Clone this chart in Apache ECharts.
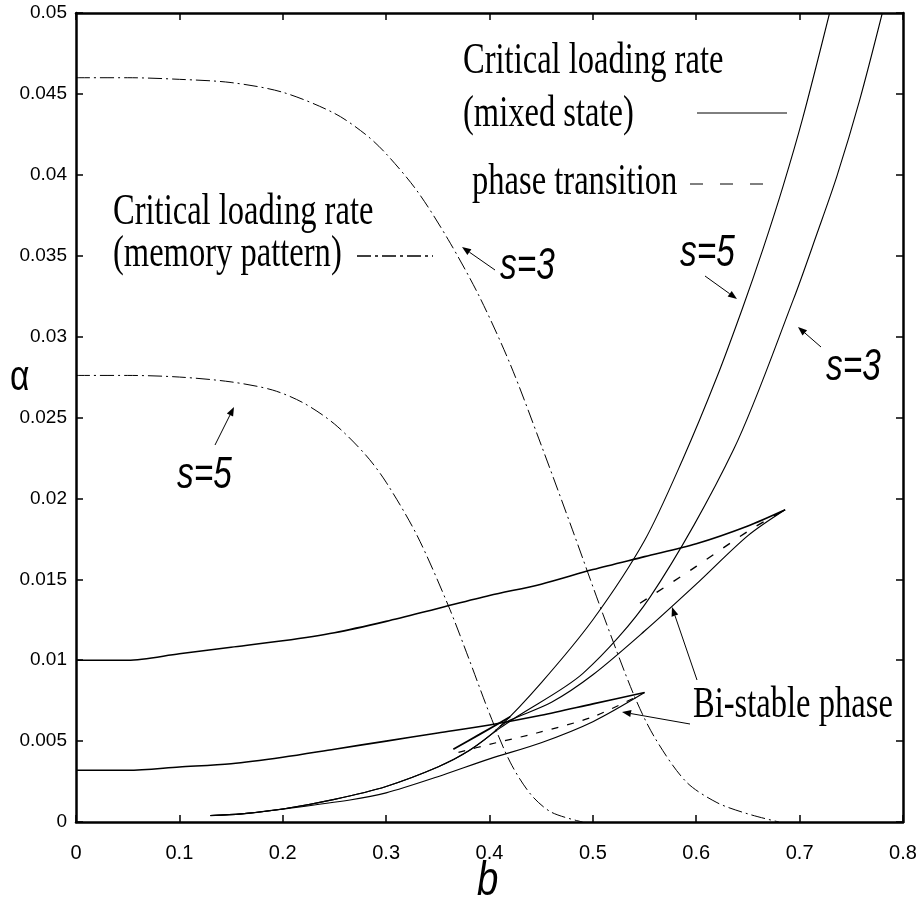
<!DOCTYPE html>
<html><head><meta charset="utf-8">
<script src="https://cdn.jsdelivr.net/npm/echarts@6/dist/echarts.min.js"></script>
<style>html,body{margin:0;padding:0;background:#fff}#c{width:920px;height:899px}</style>
</head><body><div id="c"></div>
<script>
// ---- tick labels ----
const xTickLabels = ['0','0.1','0.2','0.3','0.4','0.5','0.6','0.7','0.8'];
const yTickLabels = ['0','0.005','0.01','0.015','0.02','0.025','0.03','0.035','0.04','0.045','0.05'];

// ---- critical loading rate (memory pattern), dash-dot ----
const memS3_b = [0, 0.05, 0.10, 0.15, 0.20, 0.25, 0.28, 0.30, 0.33, 0.36, 0.39, 0.42, 0.45, 0.48, 0.51, 0.54, 0.56, 0.59, 0.62, 0.65, 0.68];
const memS3_a = [0.0460, 0.0460, 0.0459, 0.0457, 0.0451, 0.0438, 0.0425, 0.0413, 0.0390, 0.0360, 0.0325, 0.0283, 0.0233, 0.0181, 0.0128, 0.0078, 0.0052, 0.0025, 0.0012, 0.0005, 0.0];
const memS5_b = [0, 0.05, 0.10, 0.15, 0.19, 0.22, 0.25, 0.28, 0.30, 0.33, 0.36, 0.38, 0.40, 0.42, 0.44, 0.46, 0.49];
const memS5_a = [0.0276, 0.0276, 0.0275, 0.0272, 0.0267, 0.0259, 0.0246, 0.0227, 0.0210, 0.0177, 0.0134, 0.0101, 0.0067, 0.0037, 0.0017, 0.0006, 0.0];

// ---- critical loading rate (mixed state), solid ----
const mixS5_b = [0.13, 0.16, 0.20, 0.25, 0.30, 0.35, 0.38, 0.41, 0.45, 0.50, 0.55, 0.5875, 0.62, 0.645, 0.665, 0.684, 0.703, 0.729];
const mixS5_a = [0.0004, 0.0005, 0.0008, 0.0014, 0.0022, 0.0034, 0.0044, 0.0059, 0.0086, 0.0125, 0.0174, 0.0225, 0.0275, 0.0318, 0.0355, 0.0393, 0.0435, 0.0500];
const mixS3_b = [0.13, 0.16, 0.20, 0.25, 0.30, 0.35, 0.38, 0.41, 0.4263, 0.4907, 0.5553, 0.636, 0.694, 0.717, 0.736, 0.758, 0.780];
const mixS3_a = [0.0004, 0.0005, 0.0008, 0.0014, 0.0022, 0.0034, 0.0044, 0.0058, 0.0065, 0.0092, 0.0139, 0.0230, 0.0323, 0.0364, 0.0399, 0.0446, 0.0500];

// ---- bistable region boundaries, solid ----
const upS3_b = [0, 0.05, 0.10, 0.15, 0.20, 0.25, 0.30, 0.35, 0.40, 0.45, 0.50, 0.55, 0.60, 0.65, 0.686];
const upS3_a = [0.0100, 0.0100, 0.0104, 0.0108, 0.0112, 0.0117, 0.0124, 0.0132, 0.0140, 0.0147, 0.0156, 0.0164, 0.0172, 0.0183, 0.0193];
const upS5_b = [0, 0.05, 0.10, 0.15, 0.20, 0.25, 0.30, 0.35, 0.40, 0.45, 0.50, 0.55];
const upS5_a = [0.0032, 0.0032, 0.0034, 0.0036, 0.0040, 0.0045, 0.0050, 0.0055, 0.0060, 0.0066, 0.0073, 0.0080];
const lowS3_b = [0.41, 0.42, 0.46, 0.50, 0.55, 0.60, 0.65, 0.686];
const lowS3_a = [0.0059, 0.0063, 0.0074, 0.0091, 0.0118, 0.0147, 0.0177, 0.0193];
const lowS5_b = [0.13, 0.16, 0.20, 0.265, 0.30, 0.35, 0.40, 0.45, 0.50, 0.55];
const lowS5_a = [0.0004, 0.0005, 0.0008, 0.00136, 0.0018, 0.0028, 0.0039, 0.0049, 0.0062, 0.0080];
const segS5_b = [0.365, 0.39, 0.42];
const segS5_a = [0.0045, 0.0054, 0.0065];

// ---- phase transition, dashed ----
const ptS5_b = [0.37, 0.40, 0.4457, 0.50, 0.547];
const ptS5_a = [0.0043, 0.0048, 0.0055, 0.0065, 0.0079];
const ptS3_b = [0.5456, 0.60, 0.652, 0.686];
const ptS3_a = [0.01352, 0.0158, 0.01805, 0.0193];

function zip(xs, ys){ return xs.map((x,i)=>[x, ys[i]]); }

const chart = echarts.init(document.getElementById('c'), null, {renderer:'canvas'});

const SANS = "'Liberation Sans',Arial,sans-serif";
const SERIF = "'Liberation Serif','Times New Roman',serif";

function line(name, xs, ys, type, width){
  return {name, type:'line', data: zip(xs, ys), showSymbol:false, symbol:'none', smooth:0.3,
    lineStyle:{color:'#000', width: width||1, type: type||'solid'}, silent:true, z:3};
}

function serifText(text, x, y){
  return {type:'text', x, y, scaleX:0.74, style:{text, font:'44px '+SERIF, fill:'#000', verticalAlign:'middle', align:'left'}};
}
function sansText(text, x, y, size, italic, sx){
  return {type:'text', x, y, scaleX: sx||0.76, style:{text, font:(italic?'italic ':'')+size+'px '+SANS, fill:'#000', verticalAlign:'middle', align:'left'}};
}
function arrow(x1,y1,x2,y2){
  const ang = Math.atan2(y2-y1, x2-x1), L=9, W=3.5;
  const bx = x2 - L*Math.cos(ang), by = y2 - L*Math.sin(ang);
  const px = -Math.sin(ang), py = Math.cos(ang);
  return [
    {type:'line', shape:{x1,y1,x2:bx,y2:by}, style:{stroke:'#000', lineWidth:1}},
    {type:'polygon', shape:{points:[[x2,y2],[bx+px*W,by+py*W],[bx-px*W,by-py*W]]}, style:{fill:'#000'}}
  ];
}

const graphics = [
  serifText('Critical loading rate', 463, 61),
  serifText('(mixed state)', 463, 114),
  {type:'line', shape:{x1:697,y1:113,x2:787,y2:113}, style:{stroke:'#000', lineWidth:1}},
  serifText('phase transition', 472, 182),
  {type:'line', shape:{x1:690,y1:184,x2:767,y2:184}, style:{stroke:'#000', lineWidth:1, lineDash:[13,17]}},
  serifText('Critical loading rate', 113, 212),
  serifText('(memory pattern)', 113, 254),
  {type:'line', shape:{x1:357,y1:256,x2:433,y2:256}, style:{stroke:'#000', lineWidth:1.5, lineDash:[14,4,3,4]}},
  serifText('Bi-stable phase', 693, 705),
  sansText('s=5', 680, 254, 44, true),
  sansText('s=3', 500, 267, 44, true),
  sansText('s=5', 177, 476, 44, true),
  sansText('s=3', 826, 368, 44, true),
  sansText('b', 477, 882, 48, true, 0.8),
  sansText('\u03b1', 10, 378, 42, false, 0.8),
  ...arrow(705,276,737,299),
  ...arrow(495,270,462,247),
  ...arrow(215,445,234,407),
  ...arrow(821,347,798,327),
  ...arrow(690,724,622,712),
  ...arrow(697,680,672,607)
];

const axisCommon = {
  axisLine:{show:true, onZero:false, lineStyle:{color:'#000', width:2.5}},
  axisTick:{show:true, inside:true, length:7, lineStyle:{color:'#000', width:1.5}},
  splitLine:{show:false}
};

chart.setOption({
  animation:false,
  backgroundColor:'#fff',
  grid:{left:76, right:17, top:13, bottom:77, containLabel:false},
  xAxis:[
    Object.assign({type:'value', min:0, max:0.8, interval:0.1, position:'bottom',
      axisLabel:{color:'#000', fontFamily:SANS, fontSize:20, margin:21,
        formatter:(v)=>xTickLabels[Math.round(v*10)]}}, axisCommon),
    Object.assign({type:'value', min:0, max:0.8, interval:0.1, position:'top',
      axisLabel:{show:false}}, axisCommon)
  ],
  yAxis:[
    Object.assign({type:'value', min:0, max:0.05, interval:0.005, position:'left',
      axisLabel:{color:'#000', fontFamily:SANS, fontSize:19, margin:9,
        formatter:(v)=>yTickLabels[Math.round(v/0.005)]}}, axisCommon),
    Object.assign({type:'value', min:0, max:0.05, interval:0.005, position:'right',
      axisLabel:{show:false}}, axisCommon)
  ],
  series:[
    line('memS3', memS3_b, memS3_a, [14,4,2,4], 1),
    line('memS5', memS5_b, memS5_a, [14,4,2,4], 1),
    line('mixS5', mixS5_b, mixS5_a, 'solid', 1.1),
    line('mixS3', mixS3_b, mixS3_a, 'solid', 1.1),
    line('upS3', upS3_b, upS3_a, 'solid', 1.6),
    line('upS5', upS5_b, upS5_a, 'solid', 1.6),
    line('lowS3', lowS3_b, lowS3_a, 'solid', 1.2),
    line('lowS5', lowS5_b, lowS5_a, 'solid', 1.2),
    line('segS5', segS5_b, segS5_a, 'solid', 1.8),
    line('ptS5', ptS5_b, ptS5_a, [7,9], 1.2),
    line('ptS3', ptS3_b, ptS3_a, [8,12], 1.4)
  ],
  graphic: graphics
});
</script>
</body></html>
